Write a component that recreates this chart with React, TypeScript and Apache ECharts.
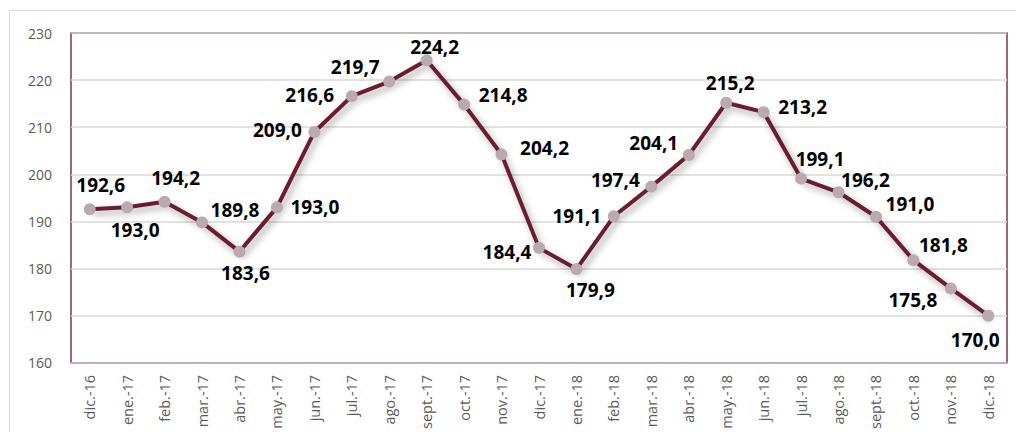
import React, { useEffect, useRef } from "react";
import * as echarts from "echarts";

const categories = [
  "dic.-16", "ene.-17", "feb.-17", "mar.-17", "abr.-17", "may.-17", "jun.-17",
  "jul.-17", "ago.-17", "sept.-17", "oct.-17", "nov.-17", "dic.-17", "ene.-18",
  "feb.-18", "mar.-18", "abr.-18", "may.-18", "jun.-18", "jul.-18", "ago.-18",
  "sept.-18", "oct.-18", "nov.-18", "dic.-18",
];

const values = [
  192.6, 193.0, 194.2, 189.8, 183.6, 193.0, 209.0, 216.6, 219.7, 224.2, 214.8,
  204.2, 184.4, 179.9, 191.1, 197.4, 204.1, 215.2, 213.2, 199.1, 196.2, 191.0,
  181.8, 175.8, 170.0,
];

// label placement offsets (pixels) relative to each point
const labelOffsets: [number, number][] = [
  [11, -24], [8, 23], [11, -24], [33, -12], [6, 21], [38, 0], [-37, -2],
  [-42, -1], [-34, -15], [8, -13], [39, -10], [43, -7], [-32, 4], [14, 21],
  [-37, 0], [-36, -7], [-35, -12], [4, -20], [39, -5], [19, -20], [27, -12],
  [34, -13], [30, -15], [-38, 12], [-13, 24],
];

const yMin = 160;
const yMax = 230;
const yInterval = 10;

const fmt = (v: number) => v.toFixed(1).replace(".", ",");

export default function App() {
  const ref = useRef<HTMLDivElement>(null);

  useEffect(() => {
    document.body.style.margin = "0";
    if (!ref.current) return;
    const chart = echarts.init(ref.current, null, { renderer: "svg" });
    chart.setOption({
      animation: false,
      backgroundColor: "#ffffff",
      graphic: [
        {
          type: "rect",
          shape: { x: 9.5, y: 10.5, width: 1030, height: 440 },
          style: { fill: "none", stroke: "#d9d9d9", lineWidth: 1 },
          silent: true,
          z: -10,
        },
      ],
      grid: {
        left: 71,
        right: 9,
        top: 33,
        bottom: 69,
        show: true,
        borderColor: "#641a2f",
        borderWidth: 1.3,
        backgroundColor: "transparent",
      },
      xAxis: {
        type: "category",
        data: categories,
        boundaryGap: true,
        axisLine: { show: true, lineStyle: { color: "#c9a7b0", width: 1.5 } },
        axisTick: { show: false },
        axisLabel: {
          rotate: 90,
          interval: 0,
          margin: 12,
          color: "#595959",
          fontSize: 14.5,
          fontFamily: "Open Sans, Noto Sans, sans-serif",
        },
      },
      yAxis: {
        type: "value",
        min: yMin,
        max: yMax,
        interval: yInterval,
        axisLine: { show: false },
        axisTick: { show: false },
        splitLine: { lineStyle: { color: "#d9d9d9", width: 1.5 } },
        axisLabel: {
          color: "#595959",
          fontSize: 14,
          margin: 19,
          fontFamily: "Open Sans, Noto Sans, sans-serif",
        },
      },
      series: [
        {
          type: "line",
          data: values.map((v, i) => ({
            value: v,
            label: { offset: labelOffsets[i] },
          })),
          symbol: "circle",
          symbolSize: 12,
          itemStyle: { color: "#b8aaaf", borderWidth: 0 },
          lineStyle: {
            color: "#6b1d33",
            width: 4,
            shadowColor: "rgba(0,0,0,0.35)",
            shadowBlur: 7,
            shadowOffsetX: 3,
            shadowOffsetY: 4,
          },
          label: {
            show: true,
            position: "inside",
            formatter: (p: any) => fmt(p.value),
            color: "#000000",
            fontSize: 19,
            fontWeight: "bold",
            fontFamily: "Open Sans, Noto Sans, sans-serif",
          },
          emphasis: { disabled: true },
          z: 3,
        },
      ],
    });
    return () => chart.dispose();
  }, []);

  return (
    <div
      ref={ref}
      style={{ position: "fixed", left: 0, top: 0, width: 1016, height: 432 }}
    />
  );
}
